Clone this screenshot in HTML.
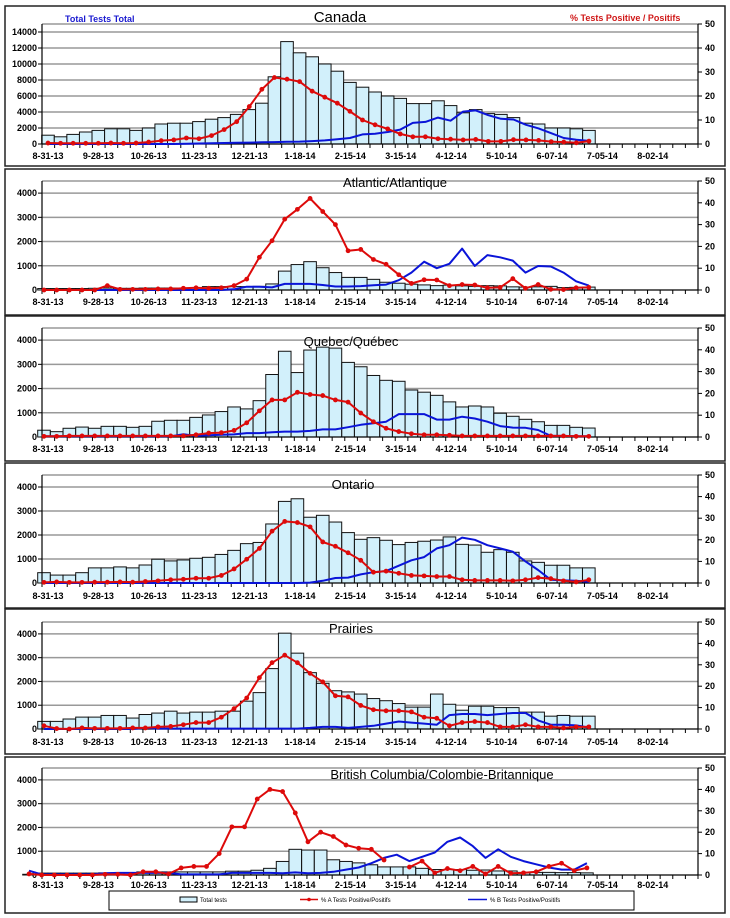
<!DOCTYPE html>
<html><head><meta charset="utf-8"><style>
html,body{margin:0;padding:0;background:#fff;}
svg{display:block;font-family:"Liberation Sans",Arial,sans-serif;}
</style></head><body>
<svg id="s" width="730" height="918" viewBox="0 0 730 918" xmlns="http://www.w3.org/2000/svg"></svg>
<script>
const S=document.getElementById('s');const NS='http://www.w3.org/2000/svg';
function el(t,a,txt){const e=document.createElementNS(NS,t);for(const k in a)e.setAttribute(k,a[k]);if(txt!==undefined)e.textContent=txt;S.appendChild(e);return e;}
const labels=['8-31-13','9-28-13','10-26-13','11-23-13','12-21-13','1-18-14','2-15-14','3-15-14','4-12-14','5-10-14','6-07-14','7-05-14','8-02-14'];
const P=[
{f:[6,166],top:24,zero:144,lmax:15000,lstep:2000,lticks:7,title:'Canada',tx:340,ty:22,ts:15,xl:159,x0:48,dx:12.58,
bars:[1.1,0.9,1.2,1.5,1.7,1.9,1.9,1.7,2.0,2.5,2.6,2.6,2.8,3.1,3.3,3.7,4.3,5.1,8.4,12.8,11.4,10.9,10.0,9.1,7.7,7.1,6.5,6.0,5.7,5.05,5.05,5.4,4.8,3.9,4.3,3.8,3.7,3.3,2.6,2.5,2.0,2.0,1.9,1.7].map(v=>v*1000),
red:[0.4,0.3,0.3,0.3,0.3,0.4,0.3,0.4,0.8,1.4,1.7,2.5,2.2,3.5,6,9.3,15.6,22.8,27.7,27,26,22,19.5,17,13.6,10,8,6.3,4.2,3,3,2.2,2,1.7,1.9,1.1,1.1,1.8,1.7,1.5,1,0.8,0.5,1.2],
blue:[0,0,0,0,0,0,0,0,0,0,0,0.1,0.2,0.3,0.4,0.5,0.6,0.7,0.8,0.9,1,1.2,1.5,2,2.5,4,4.3,5,6,8.8,9.2,11,9.7,13.5,14,12,10.5,10.2,8,6.5,4.5,2.5,1.8,1.3]},
{f:[169,315],top:181,zero:290,lmax:4500,lstep:1000,lticks:4,title:'Atlantic/Atlantique',tx:395,ty:187,ts:13,xl:305,x0:44,dx:12.67,
bars:[60,60,60,60,70,80,70,70,80,80,80,80,100,140,140,140,140,150,250,780,1050,1170,920,720,520,520,440,320,280,240,210,180,200,170,150,180,170,130,120,130,150,100,110,120],
red:[0,0,0,0,0,2,0.3,0.3,0.3,0.5,0.5,0.8,1,0.8,1,2,5,15,22.6,32.5,37,42,36,30,18,18.6,14,11.8,7,3,4.7,4.6,2,2.5,2.3,1,1.2,5.2,0.8,2.5,0.3,0.2,1,1.2],
blue:[0,0,0,0,0,0,0,0,0,0,0,0,0,0,0,0.3,1.5,1.5,1.2,2.8,2.8,2.8,2.3,1.6,1.6,1.8,2.2,2.5,4.5,8,13,10,12,19,11,16,15,13.5,8,11,10.8,8,4,2]},
{f:[316,461],top:328,zero:437,lmax:4500,lstep:1000,lticks:4,title:'Quebec/Québec',tx:351,ty:346,ts:13,xl:452,x0:44,dx:12.67,
bars:[280,220,360,410,360,440,440,400,440,650,690,690,810,910,1050,1240,1160,1500,2580,3540,2660,3590,3710,3670,3080,2900,2540,2340,2300,1940,1850,1720,1450,1240,1280,1240,980,855,730,630,480,480,400,370],
red:[0.3,0.3,0.5,0.5,0.5,0.5,0.5,0.5,0.5,0.5,0.5,0.5,1,1.8,2,3,6.5,12,17,17,20.5,19.5,19,17,16,11,7,4,2.5,1.5,1,1,0.8,0.5,0.5,0.5,0.5,0.5,0.5,0.5,0.5,0.5,0.3,0.3],
blue:[0.3,0.3,0.3,0.3,0.3,0.3,0.3,0.3,0.3,0.3,0.3,1.3,0.5,0.8,1,1.2,1.8,1.8,2.2,2.5,2.5,2.8,3.5,3.5,4.5,5.6,6.3,7,10.5,10.5,10.5,8,8,9.3,8.5,7,5,4.3,4.2,3.2,0.5,0.5,0.3,0.3]},
{f:[463,608],top:475,zero:583,lmax:4500,lstep:1000,lticks:4,title:'Ontario',tx:353,ty:489,ts:13,xl:599,x0:44,dx:12.67,
bars:[430,330,330,430,630,630,670,630,750,990,920,960,1030,1070,1190,1360,1640,1690,2460,3400,3510,2740,2820,2540,2100,1820,1890,1780,1600,1690,1740,1790,1920,1610,1580,1280,1390,1280,920,860,740,740,630,630],
red:[0.3,0.5,0.3,0.3,0.4,0.4,0.5,0.4,0.7,1,1.5,1.7,2.2,2.2,3.5,6.5,11,16,24,28.5,28,26,19,17,14,10.5,5,5.5,4.5,3.5,3.3,3,3,1.5,1.2,1.2,1.2,1,1.5,2.5,2,1,0.5,1.5],
blue:[0,0,0,0,0,0,0,0,0,0,0,0,0,0,0,0,0,0,0,0,0,0.2,1,2.3,2.5,4,5,5.5,8,10.5,12,16,17.5,21,20,17.5,16,14.5,10,6,1.5,1.2,1,0.5]},
{f:[609,754],top:622,zero:729,lmax:4500,lstep:1000,lticks:4,title:'Prairies',tx:351,ty:633,ts:13,xl:745,x0:44,dx:12.67,
bars:[320,320,420,500,500,570,570,460,610,670,750,670,710,710,750,750,1170,1530,2540,4030,3190,2370,1920,1610,1560,1470,1280,1190,1070,920,920,1470,1040,790,960,960,900,900,710,710,540,570,540,540],
red:[1.5,0.2,0,0.5,0.3,0.3,0.3,0.5,0.5,1,1.2,2,3,3,5.5,9.5,14.5,24,31,34.5,31,26,22,15.5,15,11,9,8.5,8.5,8,5.5,5,1.5,3,3.5,3,1,1,2,1,1,0.5,1,1],
blue:[0,0,0,0,0,0,0,0,0.5,0.2,0.2,0.2,0.2,0.2,0.2,0.2,0.2,0.2,0.2,0.2,0.2,0.5,1,1,0.5,1,1.5,2.5,3.5,3,2.5,2,6.5,7,7,6.5,7,7.5,7.5,4,2,2,1.7,0.7]},
{f:[757,913],top:768,zero:875,lmax:4500,lstep:1000,lticks:4,title:'British Columbia/Colombie-Britannique',tx:442,ty:779,ts:13,xl:888,x0:29,dx:12.68,
bars:[30,80,80,80,80,80,90,90,100,130,130,130,130,130,130,130,160,160,200,280,570,1080,1050,1050,640,570,510,430,340,340,340,280,230,230,230,200,210,170,170,110,110,110,100,100,90],
red:[0.5,0,0,0,0,0,0.3,0.3,0,1.5,1.5,0.5,3.3,4,4,10,22.5,22.5,35.5,40,39,29,15.5,20,18,14,12.5,12,7,null,3.7,6.5,1,3,2,4,0.5,4,0.8,1,1.5,4,5.5,2,3.3],
blue:[2,0.3,0.3,0.3,0.3,0.3,0.8,1,1,1,1,1,0.3,0.3,0.3,0.3,1,1,1,1,0.8,1.2,0.8,1,1.5,2.5,3.5,5.5,8,9.5,6.5,8.5,10.5,15.5,17.5,13.5,8,12,8.5,6.5,5,3.5,2.5,2.5,5.5]}
];
const L=42,R=698;
for(const p of P){
  el('rect',{x:5,y:p.f[0],width:720,height:p.f[1]-p.f[0],fill:'none',stroke:'#222','stroke-width':1.5});
  const ly=v=>p.zero-(p.zero-p.top)*v/p.lmax, ry=v=>p.zero-(p.zero-p.top)*v/50;
  el('line',{x1:L,y1:p.top,x2:R,y2:p.top,stroke:'#999','stroke-width':1.5});
  for(let i=0;i<=p.lticks;i++){const v=i*p.lstep,y=ly(v);
    if(i>0)el('line',{x1:L,y1:y,x2:R,y2:y,stroke:'#999','stroke-width':1.5});
    el('line',{x1:L-4,y1:y,x2:L,y2:y,stroke:'#000'});
    el('text',{x:L-5,y:y+3,'text-anchor':'end','font-size':9,'font-weight':'bold'},String(v));}
  for(let v=0;v<=50;v+=10){const y=ry(v);el('line',{x1:R,y1:y,x2:R+4,y2:y,stroke:'#000'});
    el('text',{x:R+7,y:y+3,'font-size':9,'font-weight':'bold'},String(v));}
  p.bars.forEach((v,k)=>{const cx=p.x0+p.dx*k,y=ly(v);
    el('rect',{x:cx-6.3,y:y,width:12.6,height:p.zero-y,fill:'#d2f0fb',stroke:'#111','stroke-width':1});});
  el('line',{x1:L,y1:p.top,x2:L,y2:p.zero,stroke:'#000','stroke-width':1.2});
  el('line',{x1:R,y1:p.top,x2:R,y2:p.zero,stroke:'#000','stroke-width':1.2});
  el('line',{x1:L,y1:p.zero,x2:R,y2:p.zero,stroke:'#000','stroke-width':1.2});
  for(let k=0;k<=52;k++){const x=L+(R-L)*k/52;el('line',{x1:x,y1:p.zero,x2:x,y2:p.zero+4,stroke:'#000'});}
  labels.forEach((t,i)=>el('text',{x:48+50.4*i,y:p.xl,'text-anchor':'middle','font-size':9,'font-weight':'bold'},t));
  const path=(arr,col,w)=>{let d='',pen=false;arr.forEach((v,k)=>{if(v===null){pen=false;return;}const x=p.x0+p.dx*k,y=ry(v);d+=(pen?'L':'M')+x.toFixed(1)+' '+y.toFixed(1);pen=true;});
    el('path',{d:d,fill:'none',stroke:col,'stroke-width':w,'stroke-linejoin':'round'});};
  path(p.blue,'#0a14d8',2);
  path(p.red,'#dd0a0a',2);
  p.red.forEach((v,k)=>{if(v===null)return;el('circle',{cx:p.x0+p.dx*k,cy:ry(v),r:2.4,fill:'#dd0a0a'});});
  el('text',{x:p.tx,y:p.ty,'text-anchor':'middle','font-size':p.ts,fill:'#000'},p.title);
}
el('text',{x:65,y:22,'font-size':9,'font-weight':'bold',fill:'#1a1ad0'},'Total Tests Total');
el('text',{x:570,y:21,'font-size':9,'font-weight':'bold',fill:'#d01818'},'% Tests Positive / Positifs');
el('rect',{x:109,y:891,width:525,height:19,fill:'#fff',stroke:'#000','stroke-width':1});
el('rect',{x:180,y:897,width:17,height:5,fill:'#d2f0fb',stroke:'#000'});
el('text',{x:200,y:902,'font-size':6},'Total tests');
el('line',{x1:300,y1:899.5,x2:318,y2:899.5,stroke:'#dd0a0a','stroke-width':1.5});
el('circle',{cx:309,cy:899.5,r:1.8,fill:'#dd0a0a'});
el('text',{x:321,y:902,'font-size':6},'% A Tests Positive/Positifs');
el('line',{x1:468,y1:899.5,x2:487,y2:899.5,stroke:'#0a14d8','stroke-width':1.5});
el('text',{x:490,y:902,'font-size':6},'% B Tests Positive/Positifs');
</script>
</body></html>
